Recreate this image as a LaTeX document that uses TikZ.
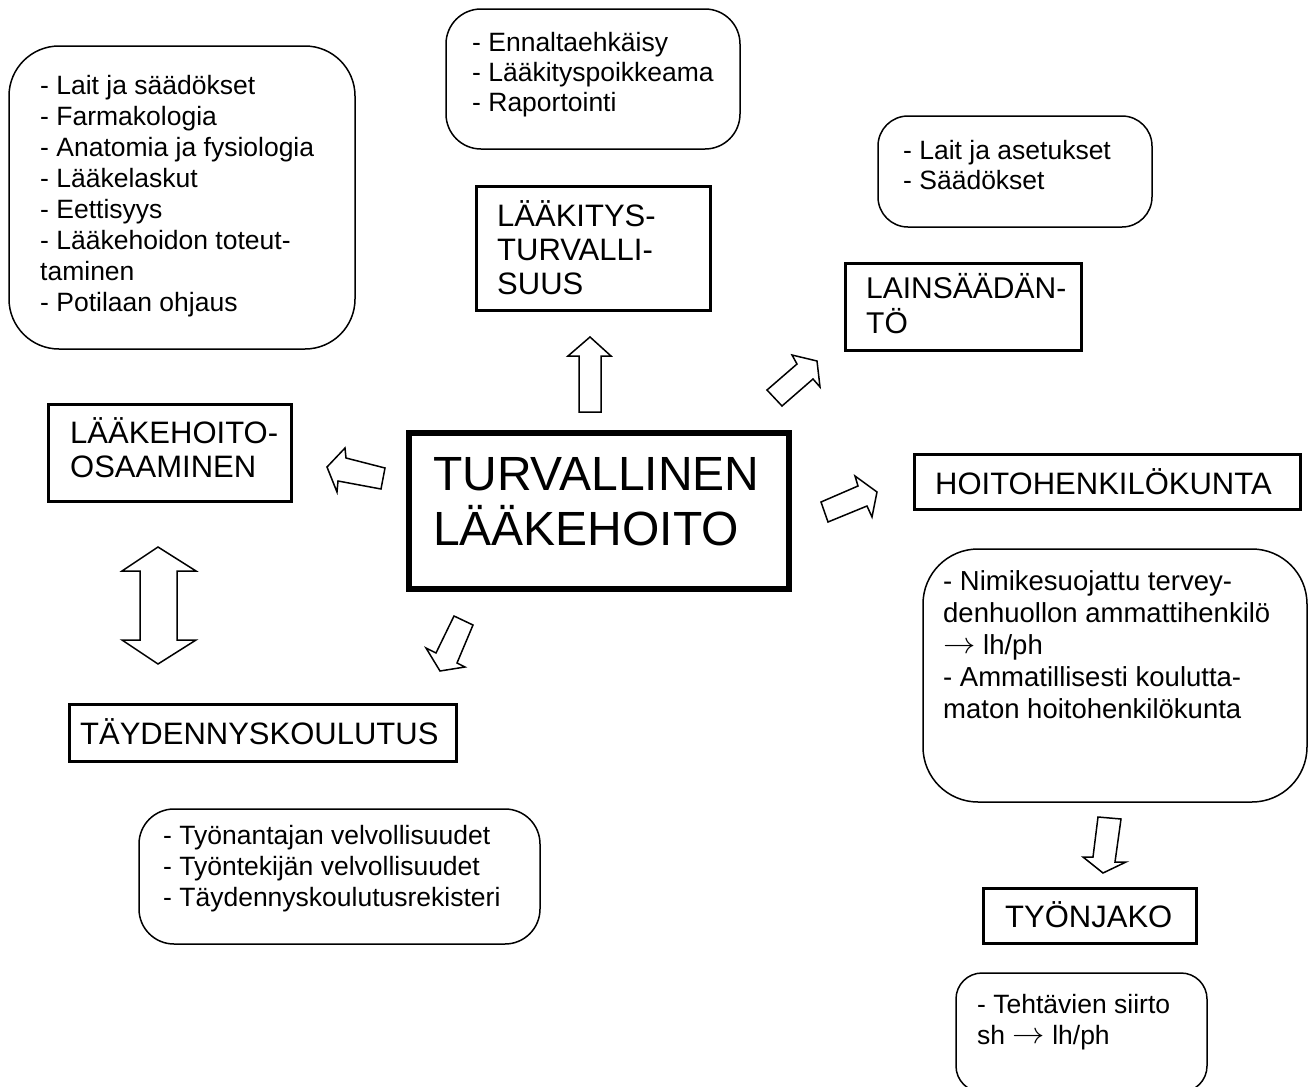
\documentclass[tikz,border=0pt]{standalone}
\usepackage{fontspec}
\usepackage{graphicx}
\setmainfont{Liberation Sans}
\newcommand{\myarrow}{\raisebox{0.5pt}{\scalebox{1.3}[1.2]{$\rightarrow$}}}
\begin{document}
\begin{tikzpicture}[x=1pt,y=-1pt,
  rbox/.style={draw, line width=1.5pt, rounded corners=#1, inner sep=0pt},
  tbox/.style={draw, line width=3pt, inner sep=0pt},
  cbox/.style={draw, line width=6pt, inner sep=0pt},
  body/.style={anchor=base west, align=left, inner sep=0pt, font=\fontsize{26.5}{31}\selectfont},
  ttl/.style={anchor=base west, align=left, inner sep=0pt, font=\fontsize{31}{35}\selectfont},
  big/.style={anchor=base west, align=left, inner sep=0pt, font=\fontsize{48}{55}\selectfont},
  barrow/.style={draw, line width=1.5pt, line join=miter, fill=white}]
\useasboundingbox (0,0) rectangle (1310,1087);
\clip (0,0) rectangle (1310,1087);
\fill[white] (0,0) rectangle (1310,1087);

% rounded content boxes
\node[rbox=50pt, minimum width=346pt, minimum height=303pt] (tl) at (182,197.5) {};
\node[rbox=35pt, minimum width=294pt, minimum height=140pt] (tc) at (593,79) {};
\node[rbox=30pt, minimum width=274pt, minimum height=111pt] (rt) at (1015,171.5) {};
\node[rbox=55pt, minimum width=384pt, minimum height=253pt] (rb) at (1115,675.5) {};
\node[rbox=35pt, minimum width=401pt, minimum height=135pt] (bl) at (339.5,876.5) {};
\node[rbox=26pt, minimum width=251pt, minimum height=119pt] (br) at (1081.5,1032.5) {};

% texts (anchor = baseline of the last line)
\node[body] (tltx) at (40,311) {- Lait ja säädökset\\- Farmakologia\\- Anatomia ja fysiologia\\- Lääkelaskut\\- Eettisyys\\- Lääkehoidon toteut-\\taminen\\- Potilaan ohjaus};
\node[body, font=\fontsize{26.5}{30}\selectfont] (tctx) at (472,111) {- Ennaltaehkäisy\\- Lääkityspoikkeama\\- Raportointi};
\node[body, font=\fontsize{26.5}{30}\selectfont] (rttx) at (903,189) {- Lait ja asetukset\\- Säädökset};
\node[body, font=\fontsize{27.5}{32}\selectfont] (rbtx) at (943,718) {- Nimikesuojattu tervey-\\denhuollon ammattihenkilö\\\myarrow{} lh/ph\\- Ammatillisesti koulutta-\\maton hoitohenkilökunta};
\node[body] (bltx) at (163,906) {- Työnantajan velvollisuudet\\- Työntekijän velvollisuudet\\- Täydennyskoulutusrekisteri};
\node[body] (brtx) at (977,1044) {- Tehtävien siirto\\sh \myarrow{} lh/ph};

% title boxes
\node[tbox, minimum width=234pt, minimum height=124pt] (lt) at (593.5,248.5) {};
\node[ttl, font=\fontsize{31}{34}\selectfont] (lttx) at (497,294) {LÄÄKITYS-\\TURVALLI-\\SUUS};
\node[tbox, minimum width=236pt, minimum height=87pt] (ls) at (963.5,307) {};
\node[ttl, font=\fontsize{30}{35}\selectfont] (lstx) at (866,333) {LAINSÄÄDÄN-\\TÖ};
\node[tbox, minimum width=243pt, minimum height=97pt] (lo) at (170,453) {};
\node[ttl, font=\fontsize{31}{34}\selectfont] (lotx) at (70,477) {LÄÄKEHOITO-\\OSAAMINEN};
\node[tbox, minimum width=386pt, minimum height=55pt] (hh) at (1107.5,482) {};
\node[ttl] (hhtx) at (935,494) {HOITOHENKILÖKUNTA};
\node[tbox, minimum width=387pt, minimum height=57pt] (tk) at (263,733) {};
\node[ttl] (tktx) at (80,744) {TÄYDENNYSKOULUTUS};
\node[tbox, minimum width=213pt, minimum height=55pt] (tj) at (1090,916) {};
\node[ttl] (tjtx) at (1005,927) {TYÖNJAKO};

% centre box
\node[cbox, minimum width=380pt, minimum height=156pt] (c) at (599,511) {};
\node[big] (ctx) at (433,545) {TURVALLINEN\\LÄÄKEHOITO};

% block arrows
\draw[barrow] (590,337) -- (611,356) -- (601,356) -- (601,412) -- (579,412) -- (579,356) -- (568,356) -- cycle;
\draw[barrow] (767,390) -- (797,364) -- (792,355) -- (817,361) -- (820,387) -- (813,379) -- (782,406) -- cycle;
\draw[barrow] (327,467) -- (345,448) -- (346,458) -- (385,468) -- (381,489) -- (338,481) -- (337,492) -- cycle;
\draw[barrow] (821,502) -- (858,486) -- (855,476) -- (877,492) -- (872,517) -- (867,506) -- (828,522) -- cycle;
\draw[barrow] (454,616) -- (473,625) -- (457,663) -- (465,667) -- (440,671) -- (426,648) -- (436,653) -- cycle;
\draw[barrow] (158,547) -- (196,571) -- (177,571) -- (177,640) -- (196,640) -- (158,664) -- (122,640) -- (140,640) -- (140,571) -- (122,571) -- cycle;
\draw[barrow] (1098,817) -- (1121,819) -- (1115,862) -- (1126,862) -- (1103,873) -- (1083,857) -- (1093,857) -- cycle;
\end{tikzpicture}
\end{document}
